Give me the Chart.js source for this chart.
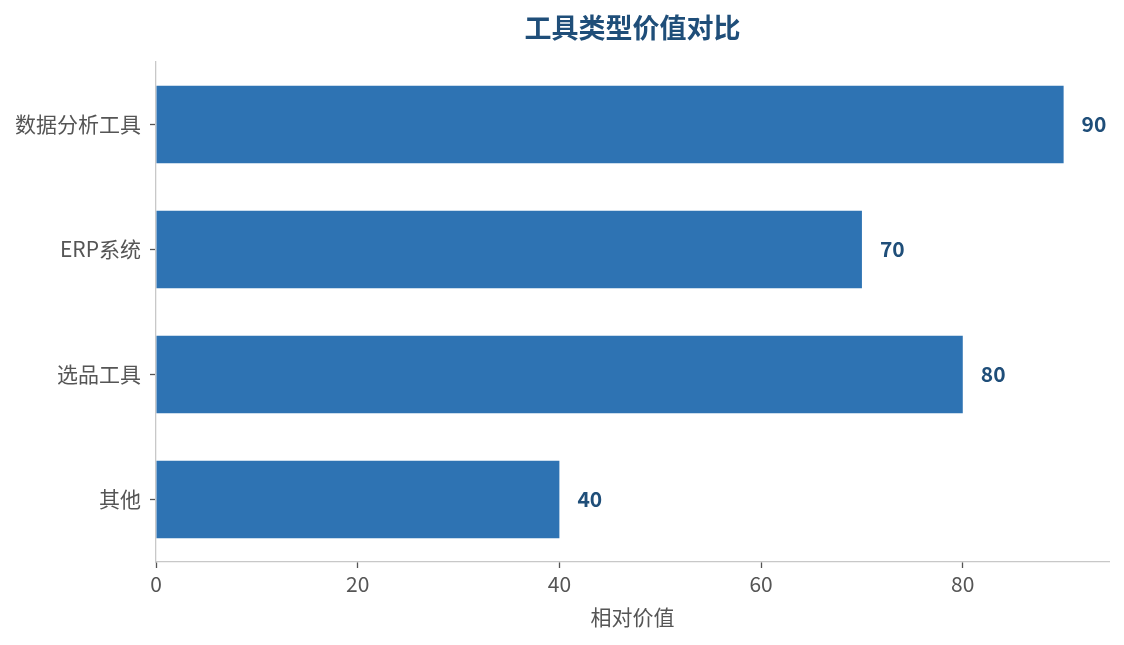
<!DOCTYPE html>
<html>
<head>
<meta charset="utf-8">
<script src="https://cdn.jsdelivr.net/npm/chart.js@4/dist/chart.umd.min.js"></script>
<style>
  html, body { margin: 0; padding: 0; background: #ffffff; }
  #wrap { width: 1124px; height: 645px; position: relative; }
</style>
</head>
<body>
<div id="wrap"><canvas id="c" width="1124" height="645"></canvas></div>
<script>
const categories = ['数据分析工具', 'ERP系统', '选品工具', '其他'];
const values = [90, 70, 80, 40];
const xTicks = [0, 20, 40, 60, 80];
const xMax = 94.5;
const chartTitle = '工具类型价值对比';
const xAxisTitle = '相对价值';

const FONT = "'Noto Sans CJK SC', 'Noto Sans', sans-serif";

const titlePlugin = {
  id: 'centerTitle',
  afterDraw(chart) {
    const ctx = chart.ctx;
    const a = chart.chartArea;
    ctx.save();
    ctx.font = "bold 27px " + FONT;
    ctx.fillStyle = '#1F4E79';
    ctx.textAlign = 'center';
    ctx.textBaseline = 'middle';
    ctx.fillText(chartTitle, (a.left + a.right) / 2, 28);
    ctx.restore();
  }
};

const valueLabels = {
  id: 'valueLabels',
  afterDatasetsDraw(chart) {
    const ctx = chart.ctx;
    const meta = chart.getDatasetMeta(0);
    ctx.save();
    ctx.font = "bold 21px " + FONT;
    ctx.fillStyle = '#1F4E79';
    ctx.textAlign = 'left';
    ctx.textBaseline = 'middle';
    meta.data.forEach((bar, i) => {
      ctx.fillText(String(values[i]), bar.x + 18, bar.y);
    });
    ctx.restore();
  }
};

new Chart(document.getElementById('c'), {
  type: 'bar',
  data: {
    labels: categories,
    datasets: [{
      data: values,
      backgroundColor: '#2E73B3',
      borderWidth: 0,
      barPercentage: 0.62,
      categoryPercentage: 1.0
    }]
  },
  options: {
    indexAxis: 'y',
    responsive: false,
    animation: false,
    devicePixelRatio: 1,
    layout: { padding: { top: 62, right: 15, bottom: 0, left: 0 } },
    plugins: {
      legend: { display: false },
      title: { display: false },
      tooltip: { enabled: false }
    },
    scales: {
      x: {
        min: 0,
        max: xMax,
        afterBuildTicks(scale) {
          scale.ticks = xTicks.map(v => ({ value: v }));
        },
        afterFit(scale) { scale.height = 83; },
        grid: { display: true, drawOnChartArea: false, drawTicks: true, tickLength: 6, tickColor: '#555555', tickWidth: 1.3 },
        border: { display: true, color: '#C8C8C8', width: 1.3 },
        ticks: { color: '#555555', font: { family: FONT, size: 21 }, padding: 3 },
        title: { display: true, text: xAxisTitle, color: '#555555', font: { family: FONT, size: 21 }, padding: { top: 4, bottom: 15 } }
      },
      y: {
        afterFit(scale) { scale.width = 156; },
        grid: { display: true, offset: false, drawOnChartArea: false, drawTicks: true, tickLength: 6, tickColor: '#555555', tickWidth: 1.3 },
        border: { display: true, color: '#C8C8C8', width: 1.3 },
        ticks: { color: '#555555', font: { family: FONT, size: 21 }, padding: 9 }
      }
    }
  },
  plugins: [titlePlugin, valueLabels]
});
</script>
</body>
</html>
